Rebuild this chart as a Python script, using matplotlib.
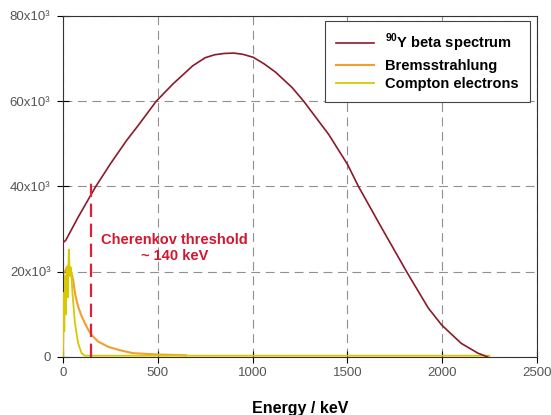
import numpy as np
import matplotlib
matplotlib.use("Agg")
import matplotlib.pyplot as plt
from matplotlib.ticker import FuncFormatter

plt.rcParams['font.family'] = ['Liberation Sans', 'DejaVu Sans']
plt.rcParams['mathtext.fontset'] = 'custom'
plt.rcParams['mathtext.rm'] = 'Liberation Sans:bold'
plt.rcParams['mathtext.bf'] = 'Liberation Sans:bold'

# --- données ---
beta_E = [0, 15, 80, 173, 250, 334, 400, 492, 579, 684, 750, 800, 850, 900, 950,
          1004, 1060, 1122, 1209, 1270, 1402, 1501, 1559, 1681, 1813, 1927, 1998,
          2101, 2189, 2241]
beta_y = [26.8e3, 27.4e3, 32.8e3, 40e3, 45.3e3, 50.7e3, 54.5e3, 60e3, 64e3, 68.3e3,
          70.2e3, 70.9e3, 71.2e3, 71.3e3, 71.0e3, 70.3e3, 68.8e3, 66.8e3, 63.2e3,
          60e3, 52.2e3, 45.2e3, 40e3, 30.3e3, 20e3, 11.5e3, 7.5e3, 3.2e3, 0.9e3, 0]

brems_E = [0, 2, 10, 20, 30, 40, 54, 65, 80, 98, 115, 133, 150, 186, 238, 299,
           369, 492, 650]
brems_y = [0, 19.5e3, 20e3, 21e3, 21.5e3, 20.5e3, 18e3, 14.5e3, 11.8e3, 9.6e3, 8e3,
           6.4e3, 5.2e3, 3.6e3, 2.4e3, 1.6e3, 0.9e3, 0.6e3, 0.4e3]

compton_E = [0, 3, 7, 11, 15, 20, 25, 31, 36, 42, 50, 63, 80, 98, 115, 300,
             800, 1500, 2250]
compton_y = [0, 15e3, 6e3, 19e3, 10e3, 21e3, 14e3, 25.2e3, 19e3, 21e3, 15e3, 8e3,
             3.2e3, 0.9e3, 0.3e3, 0.3e3, 0.3e3, 0.3e3, 0.3e3]

seuil = 150          # seuil Cherenkov (keV)
seuil_haut = 41e3

fig = plt.figure(figsize=(5.51, 4.15), dpi=100)
ax = fig.add_axes([0.1143, 0.1398, 0.860, 0.8217])

ax.plot(compton_E, compton_y, color="#d8c800", lw=1.3, label="Compton electrons", zorder=3)
ax.plot(brems_E, brems_y, color="#f0a030", lw=1.5, label="Bremsstrahlung", zorder=2)
ax.plot(beta_E, beta_y, color="#8b1a2b", lw=1.2, label=r"$^{90}$Y beta spectrum", zorder=4)

# ligne du seuil
ax.plot([seuil, seuil], [0, seuil_haut], color="#e0203a", lw=1.6,
        linestyle=(0, (6, 3)), zorder=5)
ax.text(590, 25.6e3, "Cherenkov threshold\n~ 140 keV", color="#d01830",
        fontsize=10.5, fontweight='bold', ha='center', va='center', linespacing=1.15)

ax.set_xlim(0, 2500)
ax.set_ylim(0, 80000)
ax.set_xticks([0, 500, 1000, 1500, 2000, 2500])
ax.set_yticks([0, 20000, 40000, 60000, 80000])
ax.yaxis.set_major_formatter(FuncFormatter(
    lambda v, p: "0" if v == 0 else f"{int(v/1000)}x10\u00b3"))
ax.tick_params(direction='inout', length=8, labelsize=9.5, labelcolor="#555555",
               width=0.8, pad=3)
ax.tick_params(axis='y', pad=5)
ax.grid(True, color="#909090", linestyle=(0, (8, 5)), linewidth=0.8)
for s in ax.spines.values():
    s.set_color("#333333")
    s.set_linewidth(0.8)

ax.set_xlabel("Energy / keV", fontsize=11.5, fontweight='bold', labelpad=16)

handles, labels = ax.get_legend_handles_labels()
order = [2, 1, 0]
leg = ax.legend([handles[i] for i in order], [labels[i] for i in order],
                loc='upper right', bbox_to_anchor=(0.985, 0.985), borderaxespad=0,
                fancybox=False, edgecolor="#444444", framealpha=1,
                prop={'size': 10.5, 'weight': 'bold'}, handlelength=2.6,
                labelspacing=0.3, borderpad=0.75)
leg.get_frame().set_linewidth(0.8)

fig.savefig("out.png", dpi=100)
